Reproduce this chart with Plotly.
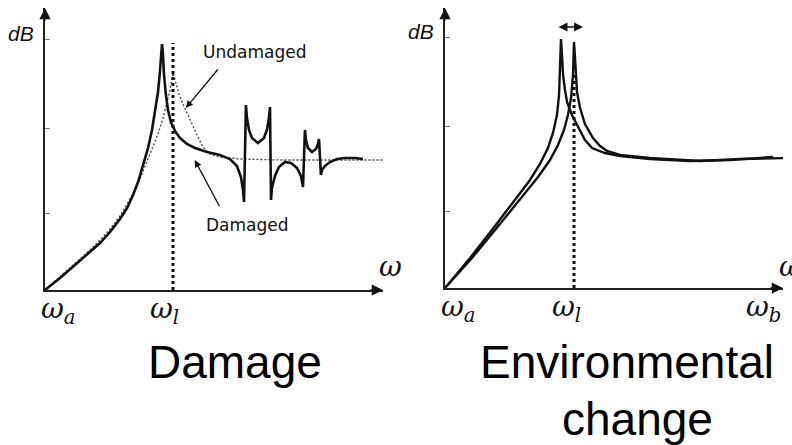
import plotly.graph_objects as go

# ---- left panel: frequency response, undamaged vs damaged ----
dmg_w = [0, 0.117, 0.234, 0.352, 0.43, 0.508, 0.586, 0.641, 0.688, 0.727, 0.766, 0.805,
         0.836, 0.859, 0.883, 0.898, 0.906, 0.914, 0.922, 0.93, 0.945, 0.961, 0.984,
         1.016, 1.055, 1.109, 1.172, 1.266, 1.367, 1.445, 1.5, 1.531, 1.547, 1.555,
         1.57, 1.578, 1.594, 1.617, 1.664, 1.711, 1.734, 1.75, 1.758,
         1.766, 1.773, 1.797, 1.828, 1.875, 1.922, 1.969, 2.0, 2.016,
         2.031, 2.039, 2.055, 2.086, 2.117, 2.133, 2.141,
         2.156, 2.164, 2.188, 2.227, 2.281, 2.344, 2.422, 2.484]
dmg_db = [0, 3, 6.25, 9.5, 11.75, 14.5, 17.75, 20.5, 23.75, 27, 31.25, 35.5,
          40, 44.25, 49.5, 54.5, 58.25, 61.5, 58.75, 53.75, 48.75, 45, 42,
          39.75, 38, 36.5, 35.5, 34.5, 33.75, 32.75, 31, 28.25, 25, 22,
          46.25, 43, 40, 38, 36.75, 38, 40, 43, 45.75,
          22.5, 25.5, 28.5, 30.75, 32, 31.75, 30.5, 28.5, 25.75,
          40, 37.5, 35.5, 34.5, 35.25, 36.5, 37.75,
          28.75, 30, 31, 32, 32.75, 33, 33, 32.75]

und_w = [0, 0.117, 0.234, 0.352, 0.43, 0.508, 0.586, 0.664, 0.742, 0.797, 0.836, 0.883,
         0.922, 0.953, 0.977, 0.992, 1.0, 1.008, 1.023, 1.047, 1.078, 1.133, 1.188,
         1.234, 1.289, 1.367, 1.523, 1.836, 2.227, 2.66]
und_db = [0, 3.25, 6.5, 10, 12.5, 15.25, 18.5, 22.75, 27.75, 32.25, 35, 39,
          43, 46.75, 50, 52.5, 54.25, 53.5, 51.5, 49, 46.5, 42.5, 38.75,
          35.75, 34, 33.25, 32.75, 32.5, 32.5, 32.5]

# ---- right panel: same structure, resonance shifted by the environment ----
envA_w = [0, 0.194, 0.388, 0.543, 0.659, 0.736, 0.798, 0.837, 0.868, 0.884, 0.891,
          0.899, 0.907, 0.915, 0.93, 0.946, 0.984, 1.031, 1.085, 1.14, 1.24, 1.357,
          1.589, 1.899, 2.209, 2.543]
envA_db = [0, 7.5, 15.5, 22, 27, 31, 35, 38.75, 43.25, 48.25, 53.25,
           62.25, 58.25, 53.25, 49.5, 46.5, 43.25, 40.25, 37, 35, 33.75, 33,
           32.25, 31.75, 32, 32.75]

envB_w = [0, 0.209, 0.426, 0.597, 0.721, 0.814, 0.876, 0.922, 0.953, 0.977, 0.992,
          1.0, 1.008, 1.016, 1.023, 1.047, 1.085, 1.147, 1.202, 1.256, 1.357,
          1.589, 1.977, 2.287, 2.65]
envB_db = [0, 7.5, 16, 22.75, 27.75, 32, 35.75, 39.5, 43.25, 47.5, 53.25,
           61.5, 58.25, 53.25, 49, 45, 41, 37.5, 35.5, 34.25, 33.25,
           32.5, 31.75, 32.25, 32.5]

# reference frequency line (omega_l) and tick levels
marker_w = [1, 1]
left_marker_db = [0, 61.75]
right_marker_db = [0, 53.25]
db_ticks = [19.25, 40.5, 62.75]

BLACK = "#111111"
fig = go.Figure()

fig.add_trace(go.Scatter(x=und_w, y=und_db, mode="lines", xaxis="x", yaxis="y",
                         line=dict(color="#444444", width=1.3, dash="2px,2px"),
                         cliponaxis=False, showlegend=False, hoverinfo="skip"))
fig.add_trace(go.Scatter(x=dmg_w, y=dmg_db, mode="lines", xaxis="x", yaxis="y",
                         line=dict(color=BLACK, width=2.6), showlegend=False,
                         hoverinfo="skip"))
fig.add_trace(go.Scatter(x=marker_w, y=left_marker_db, mode="lines", xaxis="x", yaxis="y",
                         line=dict(color=BLACK, width=3, dash="3px,3px"),
                         showlegend=False, hoverinfo="skip"))

fig.add_trace(go.Scatter(x=envA_w, y=envA_db, mode="lines", xaxis="x2", yaxis="y2",
                         line=dict(color=BLACK, width=2.4), cliponaxis=False,
                         showlegend=False, hoverinfo="skip"))
fig.add_trace(go.Scatter(x=envB_w, y=envB_db, mode="lines", xaxis="x2", yaxis="y2",
                         line=dict(color=BLACK, width=2.4), cliponaxis=False,
                         showlegend=False, hoverinfo="skip"))
fig.add_trace(go.Scatter(x=marker_w, y=right_marker_db, mode="lines", xaxis="x2", yaxis="y2",
                         line=dict(color=BLACK, width=3, dash="3px,3px"),
                         showlegend=False, hoverinfo="skip"))

W, H = 792, 445
x_common = dict(showline=True, linecolor="#222222", linewidth=1.5, showgrid=False,
                zeroline=False, showticklabels=False, ticks="")
y_common = dict(showline=True, linecolor="#222222", linewidth=1.5, showgrid=False,
                zeroline=False, showticklabels=False, ticks="inside", ticklen=5,
                tickwidth=1, tickcolor="#777777", tickvals=db_ticks)

fig.update_layout(
    width=W, height=H, margin=dict(l=0, r=0, t=0, b=0),
    paper_bgcolor="white", plot_bgcolor="rgba(0,0,0,0)",
    xaxis=dict(domain=[45 / W, 383 / W], range=[0, 2.641], anchor="y", **x_common),
    yaxis=dict(domain=[1 - 290 / H, 1 - 8 / H], range=[0, 70.5], anchor="x", **y_common),
    xaxis2=dict(domain=[445 / W, 783 / W], range=[0, 2.62], anchor="y2", **x_common),
    yaxis2=dict(domain=[1 - 288 / H, 1 - 8 / H], range=[0, 70], anchor="x2", **y_common),
)

ann = []
axis_arrow = dict(showarrow=True, arrowhead=2, arrowsize=1.5, arrowwidth=1.5,
                  arrowcolor="#111111", text="")
for xa, ya, xmax, ymax in (("x", "y", 2.641, 70.5), ("x2", "y2", 2.62, 70)):
    # arrow heads at the ends of both axes
    ann.append(dict(xref=xa, yref=ya, x=xmax, y=0, ax=-14, ay=0, **axis_arrow))
    ann.append(dict(xref=xa, yref=ya, x=0, y=ymax, ax=0, ay=14, **axis_arrow))

math_font = dict(family="DejaVu Serif", size=28, color="#111111")
sub = "<sub><i>{}</i></sub>"
for xa, ya, x, shift, s in (("x", "y", 0, 13, "a"), ("x", "y", 1, -8, "l"),
                            ("x2", "y2", 0, 13, "a"), ("x2", "y2", 1, -8, "l"),
                            ("x2", "y2", 2.465, 0, "b")):
    ann.append(dict(xref=xa, yref=ya, x=x, y=0, xshift=shift, yshift=0,
                    xanchor="center", yanchor="top", showarrow=False,
                    text="<i>ω</i>" + sub.format(s), font=math_font))

# omega labels at the end of the frequency axes
ann.append(dict(xref="paper", yref="paper", x=390 / W, y=1 - 266 / H, showarrow=False,
                xanchor="center", yanchor="middle", text="<i>ω</i>", font=math_font))
ann.append(dict(xref="paper", yref="paper", x=790 / W, y=1 - 266 / H, showarrow=False,
                xanchor="center", yanchor="middle", text="<i>ω</i>", font=math_font))

db_font = dict(family="Liberation Sans", size=21, color="#111111")
ann.append(dict(xref="paper", yref="paper", x=21 / W, y=1 - 34 / H, showarrow=False,
                xanchor="center", yanchor="middle", text="<i>dB</i>", font=db_font))
ann.append(dict(xref="paper", yref="paper", x=421 / W, y=1 - 31 / H, showarrow=False,
                xanchor="center", yanchor="middle", text="<i>dB</i>", font=db_font))

# curve labels with pointers
lab_font = dict(family="DejaVu Sans", size=17, color="#111111")
ann.append(dict(xref="x", yref="y", x=1.64, y=59.5, showarrow=False, text="Undamaged",
                font=lab_font))
ann.append(dict(xref="x", yref="y", x=1.58, y=16.25, showarrow=False, text="Damaged",
                font=lab_font))
ptr = dict(showarrow=True, arrowhead=2, arrowsize=1.1, arrowwidth=1.3,
           arrowcolor="#111111", text="")
ann.append(dict(xref="x", yref="y", axref="x", ayref="y", x=1.10, y=45.5,
                ax=1.36, ay=55.5, **ptr))
ann.append(dict(xref="x", yref="y", axref="x", ayref="y", x=1.17, y=32.5,
                ax=1.37, ay=20.5, **ptr))

# frequency-shift indicator above the two peaks
ann.append(dict(xref="x2", yref="y2", axref="x2", ayref="y2", x=1.07, y=65.25,
                ax=0.868, ay=65.25, showarrow=True, arrowhead=2, arrowside="end+start",
                arrowsize=1.2, arrowwidth=1.5, arrowcolor="#111111", text=""))

# panel captions
cap_font = dict(family="Liberation Sans", size=46, color="#000000")
ann.append(dict(xref="paper", yref="paper", x=235 / W, y=1 - 362 / H, showarrow=False,
                xanchor="center", yanchor="middle", text="Damage", font=cap_font))
ann.append(dict(xref="paper", yref="paper", x=627 / W, y=1 - 362 / H, showarrow=False,
                xanchor="center", yanchor="middle", text="Environmental", font=cap_font))
ann.append(dict(xref="paper", yref="paper", x=637 / W, y=1 - 419 / H, showarrow=False,
                xanchor="center", yanchor="middle", text="change", font=cap_font))

fig.update_layout(annotations=ann)
fig.write_html("out.html")
